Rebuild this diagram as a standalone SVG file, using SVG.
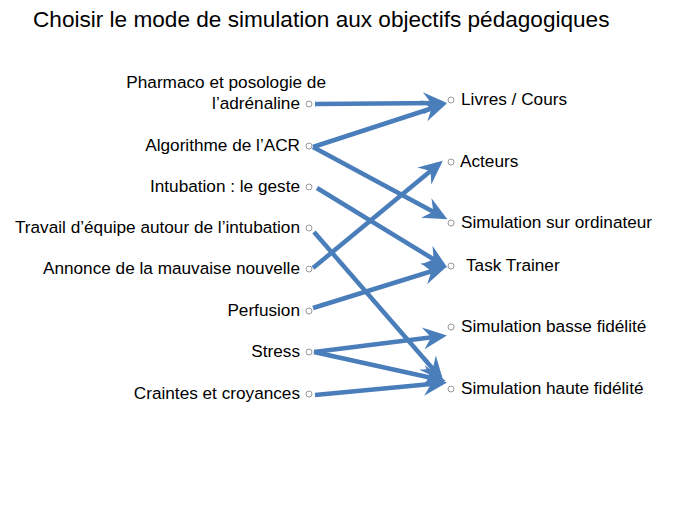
<svg xmlns="http://www.w3.org/2000/svg" width="689" height="517" viewBox="0 0 689 517">
<style>
  text { font-family: "Liberation Sans", Arial, sans-serif; fill: #000; }
  .t { font-size: 22.6px; }
  .l { font-size: 17.2px; text-anchor: end; }
  .r { font-size: 17.2px; }
  .dot { fill: #fff; stroke: #999; stroke-width: 1; }
  .c { stroke: #4A7EBB; stroke-width: 4.5; fill: none; marker-end: url(#ah); }
</style>
<defs>
  <marker id="ah" markerUnits="userSpaceOnUse" markerWidth="32" markerHeight="26" viewBox="-27 -13 32 26" refX="-5" refY="0" orient="auto">
    <path d="M0,0 L-24,-11 L-16,0 L-24,11 Z" fill="#4A7EBB"/>
  </marker>
</defs>
<rect width="689" height="517" fill="#fff"/>
<text class="t" x="33" y="27">Choisir le mode de simulation aux objectifs pédagogiques</text>

<g id="connectors">
  <line class="c" x1="315" y1="104" x2="442" y2="103"/>
  <line class="c" x1="313" y1="147" x2="442" y2="105"/>
  <line class="c" x1="313" y1="147" x2="443" y2="217"/>
  <line class="c" x1="317" y1="188" x2="443" y2="265"/>
  <line class="c" x1="314" y1="232" x2="440" y2="377"/>
  <line class="c" x1="313" y1="268" x2="439" y2="164"/>
  <line class="c" x1="313" y1="308" x2="442" y2="268"/>
  <line class="c" x1="314" y1="352" x2="442" y2="336"/>
  <line class="c" x1="314" y1="352" x2="441" y2="380"/>
  <line class="c" x1="315" y1="395" x2="442" y2="383"/>
</g>

<g id="src-pharmaco">
  <text class="l" x="326" y="88">Pharmaco et posologie de</text>
  <text class="l" x="300" y="109">l’adrénaline</text>
  <circle class="dot" cx="309" cy="104" r="3"/>
</g>
<g id="src-acr">
  <text class="l" x="300" y="151">Algorithme de l’ACR</text>
  <circle class="dot" cx="309" cy="146" r="3"/>
</g>
<g id="src-intubation">
  <text class="l" x="300" y="192">Intubation : le geste</text>
  <circle class="dot" cx="309" cy="187" r="3"/>
</g>
<g id="src-travail">
  <text class="l" x="300" y="233">Travail  d’équipe autour de l’intubation</text>
  <circle class="dot" cx="309" cy="228" r="3"/>
</g>
<g id="src-annonce">
  <text class="l" x="300" y="274">Annonce de la mauvaise nouvelle</text>
  <circle class="dot" cx="309" cy="269" r="3"/>
</g>
<g id="src-perfusion">
  <text class="l" x="300" y="316">Perfusion</text>
  <circle class="dot" cx="309" cy="311" r="3"/>
</g>
<g id="src-stress">
  <text class="l" x="300" y="357">Stress</text>
  <circle class="dot" cx="309" cy="352" r="3"/>
</g>
<g id="src-craintes">
  <text class="l" x="300" y="399">Craintes et croyances</text>
  <circle class="dot" cx="309" cy="394" r="3"/>
</g>

<g id="dst-livres">
  <circle class="dot" cx="451" cy="100" r="3"/>
  <text class="r" x="461" y="105">Livres  / Cours</text>
</g>
<g id="dst-acteurs">
  <circle class="dot" cx="451" cy="162" r="3"/>
  <text class="r" x="460" y="167">Acteurs</text>
</g>
<g id="dst-ordinateur">
  <circle class="dot" cx="451" cy="223" r="3"/>
  <text class="r" x="461" y="228">Simulation sur ordinateur</text>
</g>
<g id="dst-task">
  <circle class="dot" cx="451" cy="266" r="3"/>
  <text class="r" x="466" y="271">Task Trainer</text>
</g>
<g id="dst-basse">
  <circle class="dot" cx="451" cy="327" r="3"/>
  <text class="r" x="461" y="332">Simulation basse fidélité</text>
</g>
<g id="dst-haute">
  <circle class="dot" cx="451" cy="389" r="3"/>
  <text class="r" x="461" y="394">Simulation haute fidélité</text>
</g>
</svg>
